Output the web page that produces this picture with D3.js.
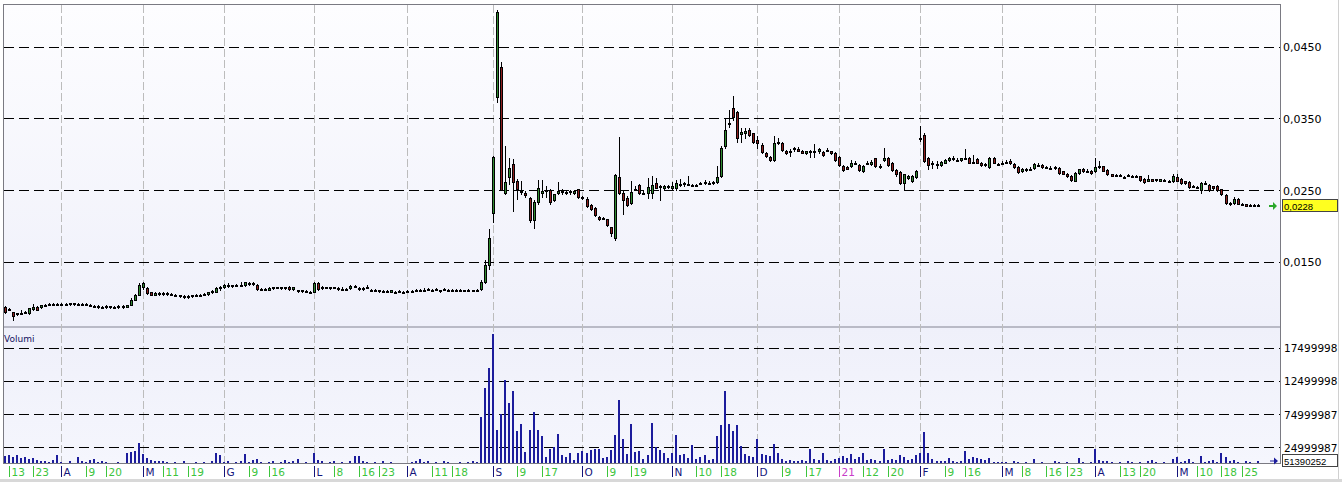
<!DOCTYPE html>
<html><head><meta charset="utf-8">
<script src="https://cdn.jsdelivr.net/npm/d3@7"></script>
<style>html,body{margin:0;padding:0;background:#fff;}svg{display:block;}</style>
</head><body>
<svg id="chart" width="1342" height="482"></svg>
<script>
// ---------- DATA ----------
const firstDay = "2020-03-12", lastDay = "2021-05-31";
const holidays = ["2020-04-10","2020-04-13","2020-05-01","2020-12-24","2020-12-25","2020-12-31","2021-01-01","2021-04-02","2021-04-05"];

const open = [
.0087,.0083,.0080,.0077,.0078,.0079,.0078,.0084,.0087,.0087,.0089,.0090,.0091,.0090,
.0091,.0090,.0091,.0092,.0091,.0090,.0091,.0090,.0088,.0088,.0087,.0087,.0088,.0087,.0087,.0088,.0087,.0089,.0097,.0104,
.0114,.0113,.0107,.0104,.0106,.0105,.0106,.0105,.0104,.0103,.0102,.0101,.0102,.0103,.0104,.0104,.0105,.0107,.0108,.0113,
.0114,.0117,.0116,.0117,.0117,.0117,.0120,.0120,.0117,.0112,.0111,.0111,.0113,.0114,.0114,.0113,.0115,.0112,.0110,.0109,.0109,.0108,
.0108,.0120,.0113,.0114,.0113,.0114,.0113,.0112,.0112,.0113,.0116,.0113,.0112,.0114,.0111,.0110,.0110,.0109,.0109,.0108,.0108,.0108,.0108,
.0108,.0109,.0110,.0110,.0111,.0111,.0111,.0111,.0110,.0111,.0111,.0111,.0111,.0111,.0110,.0110,.0110,.0111,.0112,.0122,.0145,
.0218,.0380,.0422,.0246,.0268,.0286,.0262,.0248,.0246,.0239,.0208,.0233,.0246,.0248,.0250,.0236,.0246,.0247,.0246,.0249,.0246,.0251,
.0240,.0238,.0229,.0225,.0212,.0211,.0209,.0198,.0183,.0268,.0246,.0239,.0232,.0251,.0257,.0246,.0246,.0246,.0260,.0254,.0253,.0255,
.0253,.0253,.0259,.0258,.0258,.0257,.0257,.0259,.0260,.0260,.0260,.0261,.0270,.0311,.0343,.0364,.0359,.0328,.0330,.0334,.0329,
.0320,.0313,.0302,.0296,.0292,.0317,.0316,.0305,.0303,.0308,.0307,.0305,.0302,.0304,.0305,.0304,.0303,.0306,.0304,.0302,
.0296,.0284,.0282,.0283,.0288,.0285,.0277,.0288,.0286,.0294,.0284,.0292,.0294,.0288,.0278,.0275,.0260,.0267,.0262,.0268,
.0322,.0327,.0295,.0288,.0286,.0285,.0288,.0292,.0295,.0292,.0292,.0295,.0295,.0289,.0293,.0287,.0285,.0282,.0295,.0286,
.0288,.0289,.0290,.0286,.0282,.0276,.0278,.0280,.0281,.0285,.0285,.0282,.0281,.0282,.0281,.0276,.0273,.0270,.0263,.0274,.0279,.0277,.0277,
.0276,.0282,.0283,.0278,.0272,.0271,.0271,.0268,.0271,.0270,.0269,.0269,.0266,.0263,.0265,.0264,.0263,.0264,.0262,.0262,
.0268,.0266,.0262,.0261,.0256,.0254,.0250,.0260,.0257,.0255,.0256,.0251,.0243,.0232,.0232,.0238,.0231,.0230,.0229,.0229,.0229];

const high = [
.0088,.0086,.0080,.0079,.0082,.0081,.0086,.0091,.0088,.0090,.0091,.0092,.0092,.0092,
.0092,.0092,.0093,.0093,.0092,.0092,.0092,.0091,.0089,.0089,.0088,.0089,.0088,.0088,.0089,.0089,.0090,.0099,.0105,.0120,
.0122,.0115,.0108,.0107,.0107,.0107,.0107,.0106,.0105,.0104,.0103,.0103,.0104,.0105,.0105,.0106,.0108,.0110,.0114,.0116,
.0119,.0120,.0118,.0119,.0122,.0122,.0122,.0121,.0119,.0113,.0113,.0114,.0115,.0115,.0115,.0115,.0116,.0115,.0111,.0111,.0110,.0109,
.0122,.0122,.0116,.0115,.0115,.0115,.0114,.0114,.0113,.0117,.0118,.0114,.0115,.0118,.0112,.0112,.0111,.0110,.0110,.0111,.0109,.0110,.0109,
.0110,.0110,.0112,.0112,.0113,.0113,.0112,.0113,.0111,.0113,.0112,.0112,.0112,.0112,.0111,.0112,.0111,.0112,.0124,.0152,.0196,
.0298,.0501,.0429,.0312,.0295,.0293,.0266,.0262,.0249,.0240,.0236,.0264,.0264,.0255,.0251,.0245,.0261,.0251,.0249,.0250,.0250,.0252,
.0241,.0240,.0230,.0226,.0214,.0213,.0210,.0199,.0272,.0324,.0248,.0241,.0262,.0255,.0258,.0248,.0267,.0270,.0267,.0257,.0257,.0257,
.0261,.0264,.0266,.0261,.0270,.0259,.0259,.0261,.0264,.0262,.0262,.0283,.0312,.0350,.0361,.0381,.0360,.0336,.0336,.0336,.0330,
.0326,.0315,.0303,.0297,.0325,.0322,.0317,.0306,.0307,.0310,.0310,.0306,.0305,.0306,.0314,.0308,.0304,.0308,.0305,.0303,
.0297,.0285,.0284,.0292,.0290,.0286,.0285,.0291,.0292,.0295,.0286,.0308,.0296,.0289,.0279,.0276,.0273,.0271,.0271,.0278,
.0339,.0330,.0296,.0291,.0290,.0290,.0293,.0296,.0297,.0294,.0295,.0307,.0296,.0299,.0294,.0289,.0288,.0296,.0296,.0288,
.0290,.0292,.0293,.0287,.0283,.0281,.0281,.0282,.0287,.0287,.0286,.0284,.0283,.0283,.0282,.0277,.0274,.0271,.0275,.0280,.0281,.0279,.0278,
.0294,.0291,.0284,.0279,.0273,.0272,.0272,.0270,.0272,.0271,.0271,.0270,.0267,.0271,.0266,.0266,.0266,.0265,.0264,.0273,
.0273,.0267,.0263,.0262,.0257,.0256,.0261,.0262,.0258,.0256,.0257,.0252,.0244,.0233,.0240,.0239,.0232,.0231,.0230,.0230,.0231];

const low = [
.0079,.0082,.0069,.0076,.0077,.0078,.0077,.0083,.0082,.0086,.0088,.0089,.0089,.0089,
.0089,.0089,.0090,.0090,.0089,.0089,.0089,.0088,.0087,.0086,.0086,.0086,.0086,.0086,.0086,.0086,.0087,.0089,.0096,.0103,
.0112,.0105,.0103,.0103,.0104,.0104,.0104,.0103,.0102,.0101,.0100,.0100,.0101,.0102,.0102,.0103,.0104,.0106,.0107,.0111,
.0113,.0115,.0115,.0116,.0116,.0116,.0118,.0118,.0111,.0110,.0110,.0110,.0112,.0113,.0112,.0112,.0111,.0111,.0108,.0108,.0107,.0106,
.0107,.0111,.0112,.0113,.0112,.0113,.0111,.0111,.0111,.0112,.0114,.0111,.0111,.0113,.0109,.0109,.0108,.0107,.0108,.0107,.0107,.0107,.0107,
.0107,.0108,.0109,.0109,.0110,.0110,.0110,.0110,.0108,.0110,.0110,.0109,.0110,.0109,.0109,.0109,.0109,.0109,.0111,.0120,.0140,
.0205,.0373,.0250,.0244,.0259,.0221,.0237,.0244,.0240,.0205,.0197,.0231,.0240,.0240,.0231,.0234,.0244,.0245,.0244,.0245,.0245,.0239,
.0237,.0226,.0222,.0214,.0208,.0209,.0200,.0186,.0180,.0244,.0216,.0227,.0230,.0250,.0245,.0244,.0239,.0239,.0253,.0236,.0252,.0253,
.0252,.0250,.0256,.0256,.0257,.0256,.0255,.0258,.0259,.0259,.0258,.0260,.0268,.0309,.0338,.0348,.0317,.0317,.0322,.0326,.0315,
.0309,.0302,.0296,.0290,.0290,.0314,.0305,.0300,.0297,.0305,.0304,.0301,.0300,.0296,.0296,.0302,.0298,.0304,.0300,.0291,
.0284,.0277,.0279,.0282,.0286,.0276,.0275,.0286,.0285,.0282,.0281,.0290,.0284,.0277,.0270,.0259,.0250,.0265,.0261,.0267,
.0319,.0289,.0280,.0281,.0281,.0284,.0287,.0291,.0292,.0290,.0291,.0293,.0287,.0287,.0287,.0284,.0284,.0281,.0287,.0285,
.0286,.0288,.0286,.0281,.0274,.0275,.0277,.0279,.0280,.0284,.0281,.0281,.0280,.0280,.0273,.0272,.0268,.0263,.0262,.0273,.0275,.0276,.0273,
.0275,.0281,.0276,.0271,.0269,.0269,.0270,.0267,.0270,.0269,.0268,.0263,.0260,.0262,.0262,.0263,.0262,.0263,.0261,.0261,
.0262,.0259,.0259,.0253,.0254,.0253,.0246,.0258,.0249,.0252,.0249,.0243,.0230,.0229,.0231,.0230,.0229,.0227,.0228,.0228,.0227];

const close = [
.0080,.0084,.0074,.0078,.0078,.0080,.0085,.0087,.0083,.0089,.0090,.0091,.0090,.0091,
.0090,.0091,.0092,.0091,.0090,.0091,.0090,.0089,.0088,.0087,.0087,.0088,.0087,.0087,.0088,.0087,.0089,.0097,.0104,.0117,
.0120,.0106,.0104,.0106,.0105,.0106,.0105,.0104,.0103,.0102,.0101,.0102,.0103,.0104,.0104,.0105,.0107,.0109,.0113,.0114,
.0118,.0116,.0117,.0118,.0118,.0121,.0120,.0119,.0112,.0111,.0112,.0113,.0114,.0114,.0114,.0114,.0112,.0114,.0109,.0110,.0108,.0107,
.0120,.0112,.0114,.0114,.0114,.0114,.0112,.0112,.0112,.0116,.0115,.0112,.0113,.0114,.0110,.0111,.0109,.0108,.0109,.0110,.0108,.0109,.0108,
.0109,.0109,.0111,.0111,.0111,.0112,.0111,.0112,.0109,.0112,.0111,.0110,.0111,.0110,.0110,.0111,.0110,.0110,.0121,.0145,.0183,
.0296,.0498,.0250,.0261,.0281,.0261,.0251,.0247,.0243,.0208,.0233,.0253,.0249,.0250,.0233,.0244,.0249,.0249,.0247,.0247,.0249,.0240,
.0239,.0228,.0224,.0215,.0210,.0211,.0201,.0190,.0271,.0246,.0236,.0229,.0247,.0252,.0246,.0246,.0254,.0257,.0253,.0255,.0256,.0256,
.0255,.0260,.0257,.0260,.0259,.0257,.0257,.0260,.0261,.0260,.0261,.0268,.0309,.0334,.0344,.0352,.0323,.0331,.0333,.0327,.0317,
.0316,.0303,.0297,.0292,.0316,.0317,.0306,.0302,.0304,.0309,.0305,.0302,.0304,.0304,.0303,.0307,.0299,.0306,.0302,.0292,
.0285,.0278,.0280,.0287,.0288,.0278,.0284,.0288,.0289,.0283,.0282,.0294,.0285,.0278,.0272,.0260,.0272,.0270,.0270,.0277,
.0321,.0290,.0285,.0287,.0286,.0289,.0292,.0295,.0293,.0292,.0294,.0294,.0288,.0288,.0288,.0285,.0286,.0295,.0288,.0286,
.0288,.0289,.0287,.0282,.0275,.0280,.0280,.0280,.0286,.0285,.0282,.0282,.0281,.0282,.0274,.0273,.0269,.0264,.0274,.0279,.0276,.0277,.0274,
.0282,.0284,.0277,.0272,.0270,.0270,.0271,.0268,.0271,.0270,.0269,.0264,.0261,.0266,.0263,.0265,.0265,.0264,.0262,.0270,
.0263,.0260,.0260,.0254,.0256,.0254,.0260,.0260,.0250,.0253,.0250,.0244,.0232,.0231,.0237,.0231,.0230,.0228,.0229,.0229,.0228];

const volume = [
1.2e6,1.4e6,1.0e6,1.3e6,0.9e6,1.1e6,0.8e6,0.9e6,0.6e6,0.5e6,0.4e6,0.3e6,0.6e6,1.4e6,
0.3e6,0.2e6,0.5e6,0.2e6,1.0e6,0.4e6,0.3e6,0.6e6,0.7e6,0.3e6,0.5e6,0.3e6,0.2e6,0.1e6,0.3e6,0.2e6,1.6e6,1.75e6,1.9e6,3.1e6,
1.5e6,0.9e6,0.6e6,0.5e6,0.4e6,0.5e6,0.3e6,0.2e6,0.3e6,0.2e6,0.4e6,0.2e6,0.1e6,0.3e6,0.2e6,0.3e6,0.2e6,0.5e6,1.7e6,1.3e6,
0.3e6,0.5e6,0.2e6,0.3e6,0.4e6,1.5e6,0.3e6,0.6e6,0.7e6,0.3e6,0.2e6,0.3e6,0.4e6,0.2e6,0.3e6,0.6e6,0.3e6,0.5e6,0.8e6,0.2e6,0.3e6,0.2e6,
1.7e6,0.6e6,0.4e6,0.2e6,0.3e6,0.4e6,0.2e6,0.3e6,0.2e6,0.4e6,1.2e6,1.2e6,0.4e6,0.3e6,0.2e6,0.3e6,0.2e6,0.4e6,0.2e6,0.3e6,0.2e6,0.1e6,0.2e6,
0.2e6,0.3e6,0.5e6,0.8e6,0.3e6,0.5e6,0.2e6,0.3e6,0.2e6,0.4e6,0.3e6,0.2e6,0.1e6,0.3e6,0.2e6,0.3e6,0.4e6,0.3e6,7.1e6,11.5e6,14.4e6,
19.5e6,5.1e6,7.5e6,12.6e6,9.1e6,11.0e6,4.9e6,6.0e6,1.8e6,5.1e6,7.8e6,5.1e6,4.2e6,1.1e6,2.2e6,2.5e6,4.5e6,1.4e6,1.1e6,1.7e6,0.6e6,1.7e6,
1.9e6,1.7e6,2.1e6,2.2e6,2.3e6,0.9e6,1.1e6,2.1e6,4.4e6,9.6e6,3.7e6,1.5e6,6.0e6,1.8e6,1.9e6,0.8e6,1.4e6,6.2e6,2.5e6,2.1e6,1.6e6,0.9e6,
1.7e6,4.4e6,1.3e6,1.5e6,0.95e6,2.85e6,0.8e6,1.1e6,1.3e6,0.6e6,0.8e6,4.2e6,5.8e6,11.0e6,6.0e6,5.0e6,5.9e6,2.7e6,1.5e6,1.2e6,1.1e6,
3.7e6,1.5e6,1.4e6,1.2e6,2.95e6,1.7e6,0.7e6,0.5e6,0.6e6,0.4e6,0.5e6,0.6e6,0.4e6,2.2e6,0.8e6,0.6e6,1.7e6,0.6e6,0.5e6,0.8e6,
0.9e6,1.2e6,0.9e6,1.5e6,0.8e6,1.0e6,1.7e6,0.6e6,0.8e6,0.6e6,0.5e6,2.2e6,0.6e6,0.8e6,0.6e6,1.3e6,1.1e6,0.6e6,0.8e6,1.3e6,
1.6e6,4.85e6,1.7e6,0.8e6,0.5e6,0.4e6,0.4e6,0.9e6,0.4e6,0.3e6,0.5e6,2.0e6,0.7e6,1.1e6,0.9e6,0.8e6,0.6e6,0.9e6,0.3e6,0.3e6,
0.3e6,0.3e6,0.2e6,0.4e6,0.3e6,0.2e6,0.3e6,0.2e6,0.7e6,0.2e6,0.3e6,0.2e6,0.2e6,0.4e6,0.3e6,0.2e6,0.3e6,0.2e6,0.2e6,0.9e6,0.3e6,0.2e6,0.3e6,
2.3e6,0.6e6,0.5e6,0.4e6,0.3e6,0.2e6,0.3e6,0.2e6,0.4e6,0.3e6,0.2e6,0.3e6,0.2e6,0.4e6,0.6e6,0.3e6,0.2e6,0.3e6,0.2e6,0.7e6,
1.0e6,0.3e6,0.4e6,0.7e6,0.3e6,0.2e6,1.2e6,0.3e6,0.4e6,0.6e6,0.3e6,1.6e6,1.1e6,0.4e6,0.6e6,0.3e6,0.2e6,0.4e6,0.3e6,0.2e6,0.5e6];

const priceTicks = [0.015, 0.025, 0.035, 0.045];
const volTickValues = [2.5e6, 7.5e6, 12.5e6, 17.5e6];
const volTickLabels = ["24999987", "74999987", "12499998", "17499998"];
const lastVolumeLabel = "51390252";
const volumeTitle = "Volumi";

const tickDates = ["2020-03-13","2020-03-23","2020-04-01","2020-04-09","2020-04-20","2020-05-04","2020-05-11","2020-05-19",
"2020-06-01","2020-06-09","2020-06-16","2020-07-01","2020-07-08","2020-07-16","2020-07-23","2020-08-03","2020-08-11","2020-08-18",
"2020-09-01","2020-09-09","2020-09-17","2020-10-01","2020-10-09","2020-10-19","2020-11-02","2020-11-10","2020-11-18",
"2020-12-01","2020-12-09","2020-12-17","2021-01-04","2021-01-12","2021-01-20","2021-02-01","2021-02-09","2021-02-16",
"2021-03-01","2021-03-08","2021-03-16","2021-03-23","2021-04-01","2021-04-13","2021-04-20","2021-05-03","2021-05-10","2021-05-18","2021-05-25"];
const tickLabels = ["13","23","A","9","20","M","11","19","G","9","16","L","8","16","23","A","11","18","S","9","17","O","9","19",
"N","10","18","D","9","17","21","12","20","F","9","16","M","8","16","23","A","13","20","M","10","18","25"];
const tickKinds = ["d","d","m","d","d","m","d","d","m","d","d","m","d","d","d","m","d","d","m","d","d","m","d","d",
"m","d","d","m","d","d","y","d","d","m","d","d","m","d","d","d","m","d","d","m","d","d","d"];

// ---------- LAYOUT ----------
const L = 4, R = 1280, PT = 5, PB = 326, VT = 328, VB = 463;
const svg = d3.select("#chart");
const fmtDay = d3.utcFormat("%Y-%m-%d");
const days = d3.utcDay.range(d3.utcParse("%Y-%m-%d")(firstDay), d3.utcDay.offset(d3.utcParse("%Y-%m-%d")(lastDay), 1))
  .filter(d => d.getUTCDay() !== 0 && d.getUTCDay() !== 6)
  .map(fmtDay).filter(s => !holidays.includes(s));
const n = Math.min(days.length, open.length, high.length, low.length, close.length, volume.length);

const x = d3.scaleBand().domain(days).range([2.97, 1260.6]).padding(0);
const cx = d => Math.floor(x(d) + x.bandwidth() / 2);
const yP = d3.scaleLinear().domain([0.0059, 0.0508]).range([326.9, 5.1]);
const yV = d3.scaleLinear().domain([0, 20.47e6]).range([463.9, 328]);
const loc = d3.formatLocale({decimal: ",", thousands: ".", grouping: [3], currency: ["", "€"]});
const fP = loc.format(".4f");

const defs = svg.append("defs");
const g1 = defs.append("linearGradient").attr("id", "gp").attr("x1", 0).attr("y1", 0).attr("x2", 0).attr("y2", 1);
g1.append("stop").attr("offset", 0).attr("stop-color", "#fdfdff");
g1.append("stop").attr("offset", 1).attr("stop-color", "#eff0fa");
const g2 = defs.append("linearGradient").attr("id", "gv").attr("x1", 0).attr("y1", 0).attr("x2", 0).attr("y2", 1);
g2.append("stop").attr("offset", 0).attr("stop-color", "#eff0fa");
g2.append("stop").attr("offset", 1).attr("stop-color", "#f5f6fd");

svg.append("rect").attr("width", 1342).attr("height", 482).attr("fill", "#fff");
svg.append("rect").attr("x", L).attr("y", PT).attr("width", R - L).attr("height", PB - PT).attr("fill", "url(#gp)");
svg.append("rect").attr("x", L).attr("y", VT).attr("width", R - L).attr("height", VB - VT).attr("fill", "url(#gv)");
svg.append("rect").attr("x", L).attr("y", PB).attr("width", R - L).attr("height", VT - PB).attr("fill", "#b9bac6");

// vertical month grid lines
const monthTicks = tickDates.map((d, i) => ({d, k: tickKinds[i]})).filter(t => t.k !== "d");
svg.append("g").selectAll("line").data(monthTicks).join("line")
  .attr("x1", t => cx(t.d) + 0.5).attr("x2", t => cx(t.d) + 0.5)
  .attr("y1", PT).attr("y2", VB)
  .attr("stroke", "#bcbcbc").attr("stroke-dasharray", "8,3").attr("stroke-width", 1);

// horizontal dashed grid
svg.append("g").selectAll("line").data(priceTicks).join("line")
  .attr("x1", L).attr("x2", R).attr("y1", v => Math.round(yP(v)) + 0.5).attr("y2", v => Math.round(yP(v)) + 0.5)
  .attr("stroke", "#000").attr("stroke-dasharray", "10,5");
svg.append("g").selectAll("line").data(volTickValues).join("line")
  .attr("x1", L).attr("x2", R).attr("y1", v => Math.round(yV(v)) + 0.5).attr("y2", v => Math.round(yV(v)) + 0.5)
  .attr("stroke", "#000").attr("stroke-dasharray", "10,5");

const idx = d3.range(n);
// volume bars
svg.append("g").selectAll("rect").data(idx).join("rect")
  .attr("x", i => cx(days[i]) - 1).attr("width", 2)
  .attr("y", i => Math.round(yV(volume[i])))
  .attr("height", i => Math.max(1, Math.round(yV(0)) - Math.round(yV(volume[i]))))
  .attr("fill", "#1c1c9c");

// candles
const cg = svg.append("g");
cg.selectAll("line").data(idx).join("line")
  .attr("x1", i => cx(days[i]) + 0.5).attr("x2", i => cx(days[i]) + 0.5)
  .attr("y1", i => Math.round(yP(high[i]))).attr("y2", i => Math.round(yP(low[i])) + 1)
  .attr("stroke", "#000");
cg.selectAll("rect").data(idx).join("rect")
  .attr("x", i => cx(days[i]) - 0.5).attr("width", 2)
  .attr("y", i => Math.round(yP(Math.max(open[i], close[i]))) + 0.5)
  .attr("height", i => Math.max(1, Math.round(yP(Math.min(open[i], close[i]))) - Math.round(yP(Math.max(open[i], close[i])))))
  .attr("fill", i => close[i] >= open[i] ? "#2f8a2f" : "#8e1e1e")
  .attr("stroke", "#000").attr("stroke-width", 1);

// borders
const bc = "#7a7a82";
svg.append("line").attr("x1", L - 0.5).attr("x2", L - 0.5).attr("y1", PT - 1).attr("y2", VB + 1).attr("stroke", bc);
svg.append("line").attr("x1", L - 1).attr("x2", R + 1).attr("y1", PT - 0.5).attr("y2", PT - 0.5).attr("stroke", bc);
svg.append("line").attr("x1", R + 0.5).attr("x2", R + 0.5).attr("y1", PT - 1).attr("y2", VB + 1).attr("stroke", bc);
svg.append("line").attr("x1", L - 1).attr("x2", R + 1).attr("y1", VB + 0.5).attr("y2", VB + 0.5).attr("stroke", bc);
svg.append("line").attr("x1", 1338.5).attr("x2", 1338.5).attr("y1", 0).attr("y2", 479).attr("stroke", "#d0d0d0");
svg.append("rect").attr("x", 0).attr("y", 479).attr("width", 1342).attr("height", 3).attr("fill", "#d8d8d8");

// right price axis
svg.append("g").selectAll("text").data(priceTicks).join("text")
  .attr("x", R + 3).attr("y", v => yP(v) + 4.5).text(v => fP(v))
  .attr("font-family", "DejaVu Sans").attr("font-size", 11).attr("fill", "#000");
svg.append("g").selectAll("text").data(volTickValues).join("text")
  .attr("x", R + 4).attr("y", v => yV(v) + 4.5).text((v, i) => volTickLabels[i])
  .attr("font-family", "DejaVu Sans").attr("font-size", 10.5).attr("fill", "#000");

// volume title
svg.append("text").attr("x", L).attr("y", 342).text(volumeTitle)
  .attr("font-family", "DejaVu Sans").attr("font-size", 9).attr("fill", "#101060");

// bottom date labels
const kindColor = {d: "#3cc43c", m: "#14147a", y: "#c83cc8"};
const bt = svg.append("g");
tickDates.forEach((d, i) => {
  const xx = cx(d) + 0.5;
  bt.append("line").attr("x1", xx).attr("x2", xx).attr("y1", 466).attr("y2", 477).attr("stroke", kindColor[tickKinds[i]]);
  bt.append("text").attr("x", xx + 2).attr("y", 475.5).text(tickLabels[i])
    .attr("font-family", "DejaVu Sans").attr("font-size", 10.5).attr("fill", kindColor[tickKinds[i]]);
});

// last price marker
const lastClose = close[n - 1];
const ly = Math.round(yP(lastClose));
svg.append("rect").attr("x", 1282.5).attr("y", ly - 6.5).attr("width", 55).attr("height", 12)
  .attr("fill", "#ffff20").attr("stroke", "#444");
svg.append("text").attr("x", 1284).attr("y", ly + 3.5).text(fP(lastClose))
  .attr("font-family", "Liberation Sans").attr("font-size", 9.5).attr("fill", "#000");
svg.append("path").attr("d", `M1269,${ly-1}H1273V${ly-4}L1277,${ly}L1273,${ly+4}V${ly+1}H1269Z`).attr("fill", "#2aa82a");

// last volume marker
const vy = 461;
svg.append("rect").attr("x", 1282.5).attr("y", vy - 6.5).attr("width", 55).attr("height", 12)
  .attr("fill", "#fff").attr("stroke", "#444");
svg.append("text").attr("x", 1284).attr("y", vy + 3.5).text(lastVolumeLabel)
  .attr("font-family", "Liberation Sans").attr("font-size", 9.5).attr("fill", "#000");
svg.append("path").attr("d", `M1270,${vy-0.5}H1274V${vy-3.5}L1278,${vy}L1274,${vy+3.5}V${vy+0.5}H1270Z`).attr("fill", "#1c1c9c");
</script>
</body></html>
